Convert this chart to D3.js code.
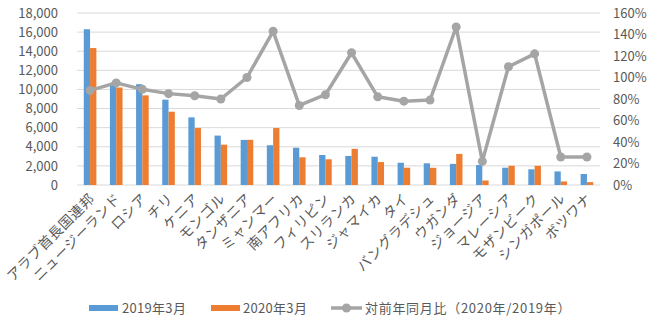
<!DOCTYPE html>
<html>
<head>
<meta charset="utf-8">
<script src="https://cdn.jsdelivr.net/npm/d3@7/dist/d3.min.js"></script>
<style>
  html, body { margin: 0; padding: 0; background: #fff; }
  svg { display: block; }
  text { font-family: "Noto Sans CJK JP", "Noto Sans", sans-serif; fill: #595959; }
</style>
</head>
<body>
<svg id="chart" width="650" height="327"></svg>
<script>
// Countries (x-axis categories)
const categories = [
  "アラブ首長国連邦", "ニュージーランド", "ロシア", "チリ", "ケニア",
  "モンゴル", "タンザニア", "ミャンマー", "南アフリカ", "フィリピン",
  "スリランカ", "ジャマイカ", "タイ", "バングラデシュ", "ウガンダ",
  "ジョージア", "マレーシア", "モザンビーク", "シンガポール", "ボツワナ"
];
// Visitors, March 2019
const values2019 = [16300, 10700, 10550, 8930, 7080, 5170, 4720, 4160, 3900, 3140,
                    3040, 2960, 2330, 2270, 2210, 2090, 1810, 1640, 1420, 1150];
// Visitors, March 2020
const values2020 = [14330, 10200, 9380, 7670, 5960, 4220, 4730, 5960, 2900, 2690,
                    3780, 2400, 1810, 1800, 3250, 470, 2010, 2010, 370, 300];
// Year-on-year ratio (%), right axis
const ratioPct = [88, 95, 89, 85, 83, 80, 100, 143, 74, 84,
                  123, 82, 78, 79, 147, 22, 110, 122, 26, 26];
// Axis ticks
const leftTicks = [0, 2000, 4000, 6000, 8000, 10000, 12000, 14000, 16000, 18000];
const rightTicks = [0, 20, 40, 60, 80, 100, 120, 140, 160];
// Legend entries
const seriesNames = ["2019年3月", "2020年3月", "対前年同月比（2020年/2019年）"];

const colors = { blue: "#5B9BD5", orange: "#ED7D31", gray: "#A5A5A5", grid: "#D9D9D9" };

const svg = d3.select("#chart");
const plot = { left: 77, right: 600, top: 13, bottom: 185 };

const x = d3.scaleBand().domain(categories).range([plot.left, plot.right]).paddingInner(0).paddingOuter(0);
const xSub = d3.scaleBand().domain(["a", "b"]).range([0, 12.6]);
const yL = d3.scaleLinear().domain([0, 18000]).range([plot.bottom, plot.top]);
const yR = d3.scaleLinear().domain([0, 160]).range([plot.bottom, plot.top]);

// Gridlines
svg.append("g").selectAll("line").data(leftTicks).join("line")
  .attr("x1", plot.left).attr("x2", plot.right)
  .attr("y1", d => yL(d)).attr("y2", d => yL(d))
  .attr("stroke", colors.grid).attr("stroke-width", 1);

// Left axis
const fmt = d3.format(",");
const axL = svg.append("g").attr("transform", `translate(${plot.left},0)`)
  .call(d3.axisLeft(yL).tickValues(leftTicks).tickFormat(d => fmt(d)).tickSize(0).tickPadding(19));
axL.select(".domain").remove();
axL.selectAll("text").attr("font-size", 13).attr("font-family", null);

// Right axis
const axR = svg.append("g").attr("transform", `translate(${plot.right},0)`)
  .call(d3.axisRight(yR).tickValues(rightTicks).tickFormat(d => d + "%").tickSize(0).tickPadding(13));
axR.select(".domain").remove();
axR.selectAll("text").attr("font-size", 13).attr("font-family", null);

// Bars
const groups = svg.append("g").selectAll("g").data(categories).join("g")
  .attr("transform", d => `translate(${x(d) + x.bandwidth() / 2 - 6.3},0)`);
groups.append("rect")
  .attr("x", xSub("a")).attr("width", xSub.bandwidth())
  .attr("y", (d, i) => yL(values2019[i])).attr("height", (d, i) => yL(0) - yL(values2019[i]))
  .attr("fill", colors.blue);
groups.append("rect")
  .attr("x", xSub("b")).attr("width", xSub.bandwidth())
  .attr("y", (d, i) => yL(values2020[i])).attr("height", (d, i) => yL(0) - yL(values2020[i]))
  .attr("fill", colors.orange);

// Ratio line
const cx = (d, i) => x(categories[i]) + x.bandwidth() / 2;
const line = d3.line().x((d, i) => cx(d, i)).y(d => yR(d));
svg.append("path").datum(ratioPct).attr("d", line)
  .attr("fill", "none").attr("stroke", colors.gray).attr("stroke-width", 3.5).attr("stroke-linejoin", "round");
svg.append("g").selectAll("circle").data(ratioPct).join("circle")
  .attr("cx", cx).attr("cy", d => yR(d)).attr("r", 4.5).attr("fill", colors.gray);

// Category labels
svg.append("g").selectAll("text").data(categories).join("text")
  .attr("transform", d => `translate(${x(d) + x.bandwidth() / 2 + 2},${plot.bottom + 11}) rotate(-45)`)
  .attr("text-anchor", "end").attr("dy", "0.35em").attr("font-size", 14)
  .attr("letter-spacing", 0.6)
  .text(d => d);

// Legend
const legend = svg.append("g");
const legY = 308;
legend.append("rect").attr("x", 89).attr("y", legY - 3).attr("width", 29).attr("height", 6).attr("fill", colors.blue);
legend.append("text").attr("x", 122).attr("y", legY).attr("dy", "0.35em").attr("font-size", 13)
  .attr("letter-spacing", 0.3).text(seriesNames[0]);
legend.append("rect").attr("x", 211).attr("y", legY - 3).attr("width", 29).attr("height", 6).attr("fill", colors.orange);
legend.append("text").attr("x", 243).attr("y", legY).attr("dy", "0.35em").attr("font-size", 13)
  .attr("letter-spacing", 0.3).text(seriesNames[1]);
legend.append("line").attr("x1", 331).attr("x2", 362).attr("y1", legY).attr("y2", legY)
  .attr("stroke", colors.gray).attr("stroke-width", 3.5);
legend.append("circle").attr("cx", 346.5).attr("cy", legY).attr("r", 4.5).attr("fill", colors.gray);
legend.append("text").attr("x", 365).attr("y", legY).attr("dy", "0.35em").attr("font-size", 13)
  .attr("letter-spacing", 0.7).text(seriesNames[2]);
</script>
</body>
</html>
